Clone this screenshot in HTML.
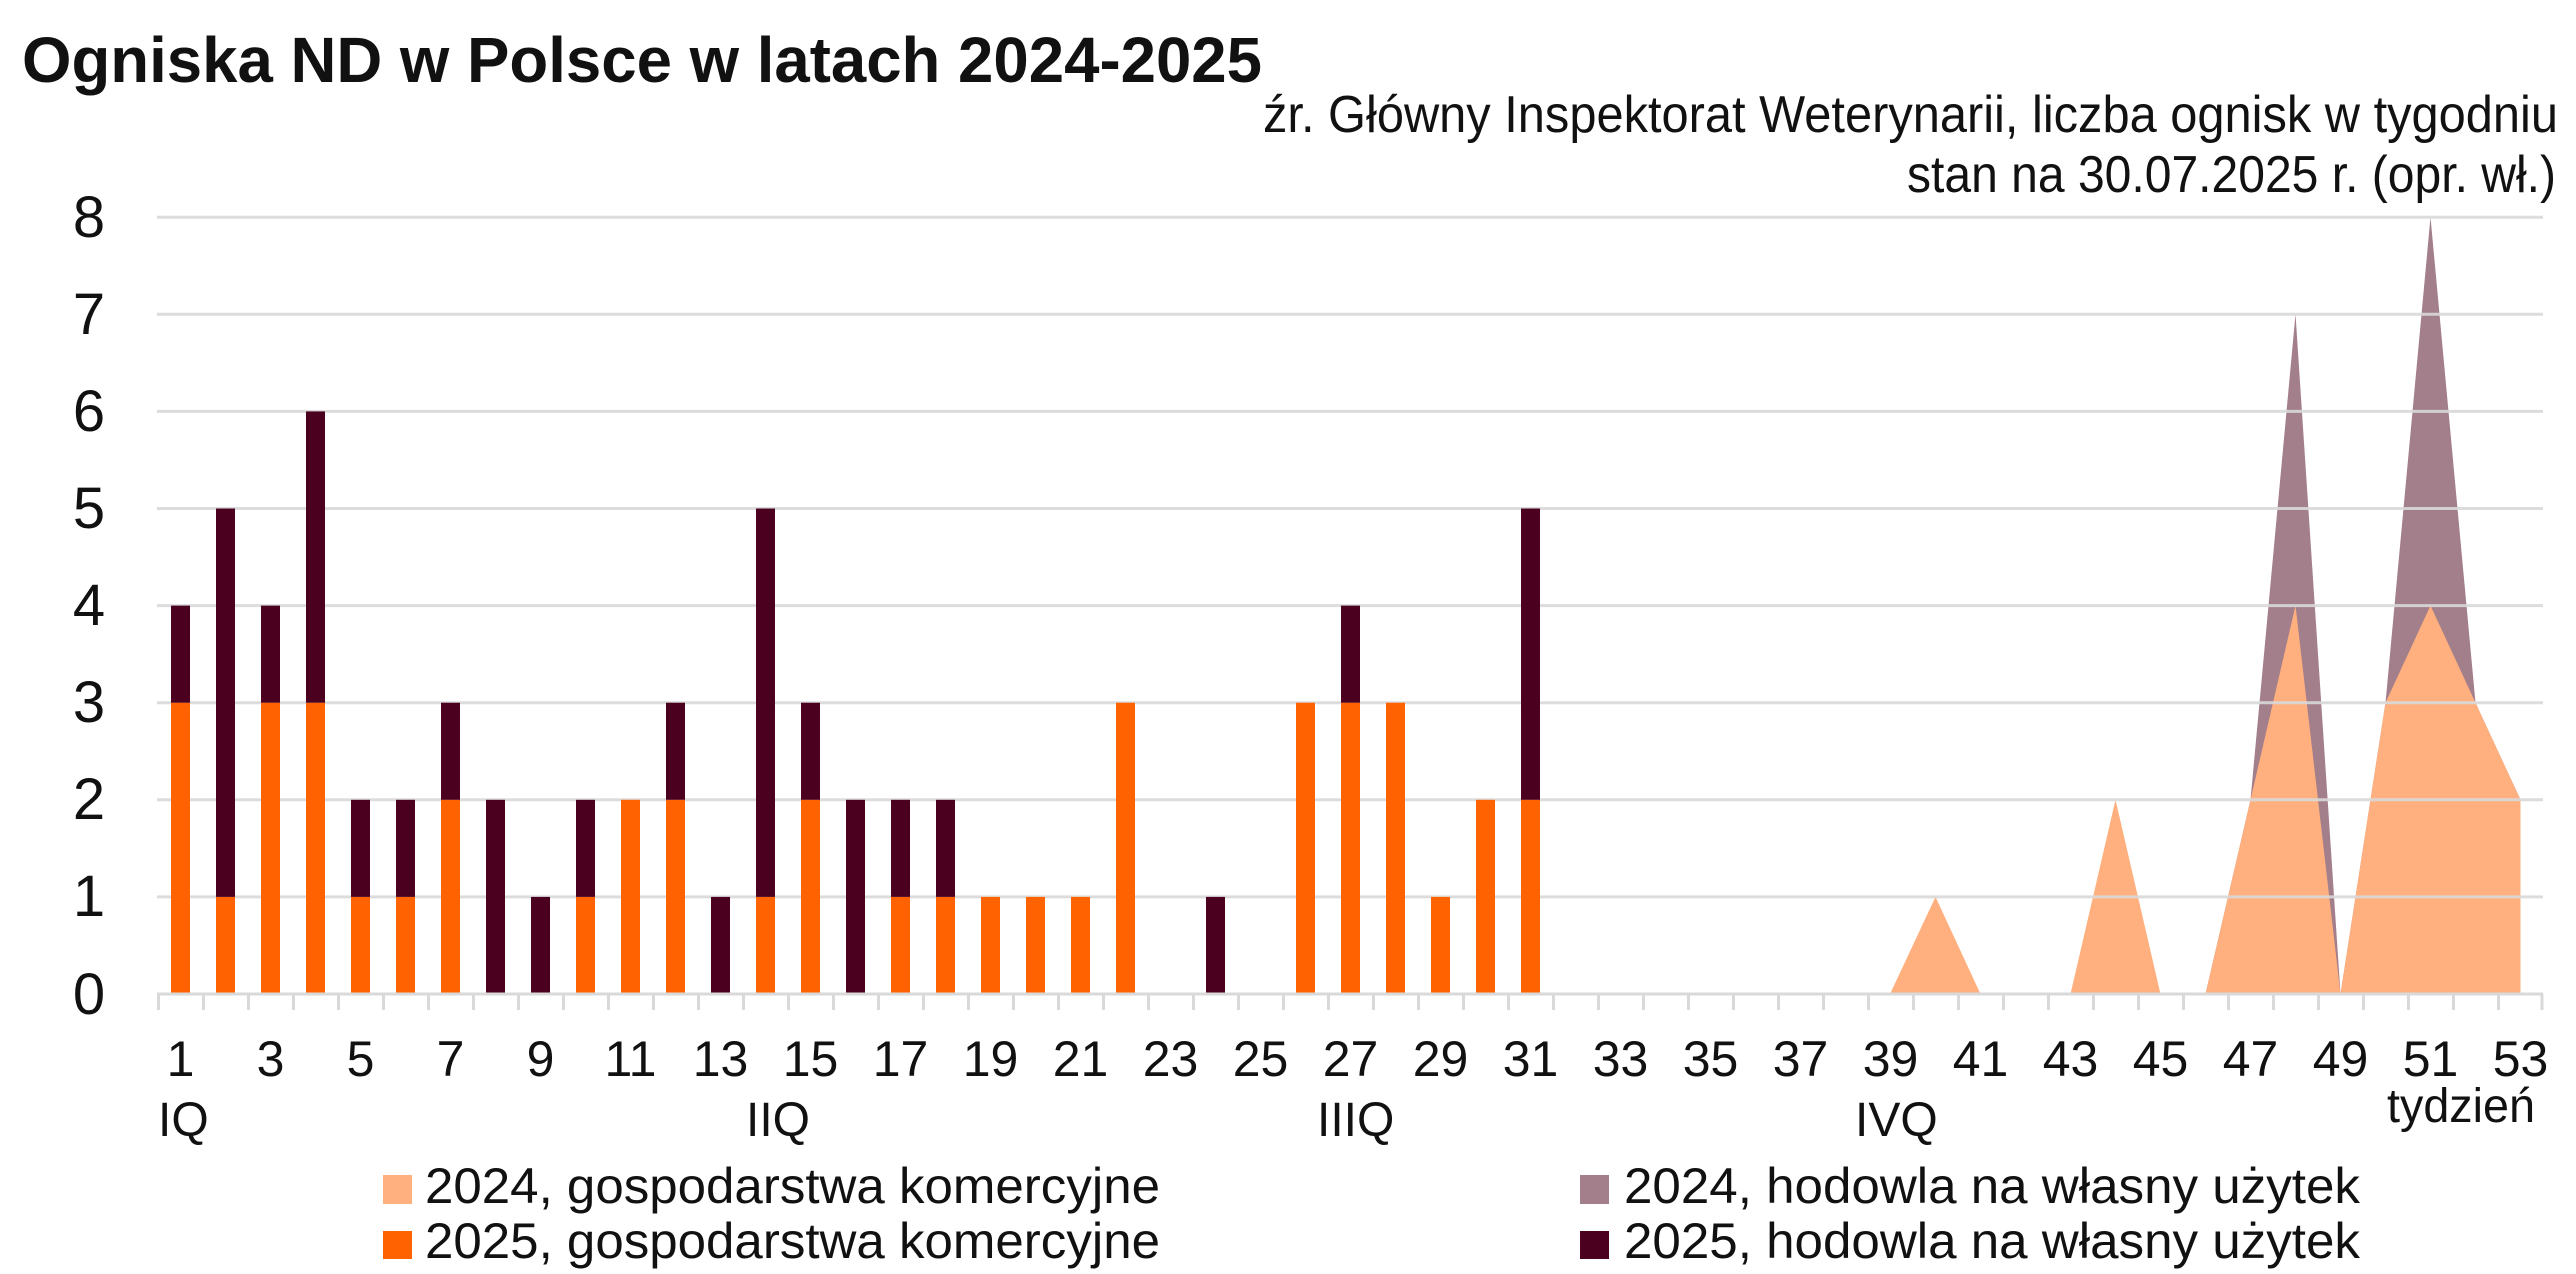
<!DOCTYPE html>
<html><head><meta charset="utf-8"><style>html,body{margin:0;padding:0;background:#fff}svg{display:block}</style></head>
<body>
<svg width="2576" height="1274" viewBox="0 0 2576 1274" xmlns="http://www.w3.org/2000/svg" font-family="Liberation Sans, DejaVu Sans, sans-serif" fill="#111">
<text x="22" y="82" font-size="64" font-weight="bold" textLength="1240" lengthAdjust="spacingAndGlyphs">Ogniska ND w Polsce w latach 2024-2025</text>
<text x="2558" y="132" font-size="52" text-anchor="end" textLength="1295" lengthAdjust="spacingAndGlyphs">źr. Główny Inspektorat Weterynarii, liczba ognisk w tygodniu</text>
<text x="2556" y="192" font-size="52" text-anchor="end" textLength="649" lengthAdjust="spacingAndGlyphs">stan na 30.07.2025 r. (opr. wł.)</text>

<polygon fill="#a37e8b" points="2205.5,994 2250.5,799.8 2295.5,314.3 2340.5,994 2385.5,702.7 2430.5,217.2 2475.5,702.7 2520.5,799.8 2520.5,994"/>
<polygon fill="#ffb07e" points="1890,994 1935.5,896.9 1980.5,994 2070.5,994 2115.5,799.8 2160.5,994 2205.5,994 2250.5,799.8 2295.5,605.6 2340.5,994 2385.5,702.7 2430.5,605.6 2475.5,702.7 2520.5,799.8 2520.5,994"/>

<g stroke="#d9d9d9" stroke-width="3" opacity="0.9">
<line x1="157" x2="2543" y1="217.2" y2="217.2"/>
<line x1="157" x2="2543" y1="314.3" y2="314.3"/>
<line x1="157" x2="2543" y1="411.4" y2="411.4"/>
<line x1="157" x2="2543" y1="508.5" y2="508.5"/>
<line x1="157" x2="2543" y1="605.6" y2="605.6"/>
<line x1="157" x2="2543" y1="702.7" y2="702.7"/>
<line x1="157" x2="2543" y1="799.8" y2="799.8"/>
<line x1="157" x2="2543" y1="896.9" y2="896.9"/>
</g>

<g fill="#ff6200">
<rect x="171" y="702.7" width="19" height="291.3"/>
<rect x="216" y="896.9" width="19" height="97.1"/>
<rect x="261" y="702.7" width="19" height="291.3"/>
<rect x="306" y="702.7" width="19" height="291.3"/>
<rect x="351" y="896.9" width="19" height="97.1"/>
<rect x="396" y="896.9" width="19" height="97.1"/>
<rect x="441" y="799.8" width="19" height="194.2"/>
<rect x="576" y="896.9" width="19" height="97.1"/>
<rect x="621" y="799.8" width="19" height="194.2"/>
<rect x="666" y="799.8" width="19" height="194.2"/>
<rect x="756" y="896.9" width="19" height="97.1"/>
<rect x="801" y="799.8" width="19" height="194.2"/>
<rect x="891" y="896.9" width="19" height="97.1"/>
<rect x="936" y="896.9" width="19" height="97.1"/>
<rect x="981" y="896.9" width="19" height="97.1"/>
<rect x="1026" y="896.9" width="19" height="97.1"/>
<rect x="1071" y="896.9" width="19" height="97.1"/>
<rect x="1116" y="702.7" width="19" height="291.3"/>
<rect x="1296" y="702.7" width="19" height="291.3"/>
<rect x="1341" y="702.7" width="19" height="291.3"/>
<rect x="1386" y="702.7" width="19" height="291.3"/>
<rect x="1431" y="896.9" width="19" height="97.1"/>
<rect x="1476" y="799.8" width="19" height="194.2"/>
<rect x="1521" y="799.8" width="19" height="194.2"/>
</g>
<g fill="#4b0020">
<rect x="171" y="605.6" width="19" height="97.1"/>
<rect x="216" y="508.5" width="19" height="388.4"/>
<rect x="261" y="605.6" width="19" height="97.1"/>
<rect x="306" y="411.4" width="19" height="291.3"/>
<rect x="351" y="799.8" width="19" height="97.1"/>
<rect x="396" y="799.8" width="19" height="97.1"/>
<rect x="441" y="702.7" width="19" height="97.1"/>
<rect x="486" y="799.8" width="19" height="194.2"/>
<rect x="531" y="896.9" width="19" height="97.1"/>
<rect x="576" y="799.8" width="19" height="97.1"/>
<rect x="666" y="702.7" width="19" height="97.1"/>
<rect x="711" y="896.9" width="19" height="97.1"/>
<rect x="756" y="508.5" width="19" height="388.4"/>
<rect x="801" y="702.7" width="19" height="97.1"/>
<rect x="846" y="799.8" width="19" height="194.2"/>
<rect x="891" y="799.8" width="19" height="97.1"/>
<rect x="936" y="799.8" width="19" height="97.1"/>
<rect x="1206" y="896.9" width="19" height="97.1"/>
<rect x="1341" y="605.6" width="19" height="97.1"/>
<rect x="1521" y="508.5" width="19" height="291.3"/>
</g>

<line x1="157" x2="2543" y1="994" y2="994" stroke="#d9d9d9" stroke-width="3"/>
<path stroke="#d9d9d9" stroke-width="3" d="M158.5 994v16M203.5 994v16M248.5 994v16M293.5 994v16M338.5 994v16M383.5 994v16M428.5 994v16M473.5 994v16M518.5 994v16M563.5 994v16M608.5 994v16M653.5 994v16M698.5 994v16M743.5 994v16M788.5 994v16M833.5 994v16M878.5 994v16M923.5 994v16M968.5 994v16M1013.5 994v16M1058.5 994v16M1103.5 994v16M1148.5 994v16M1193.5 994v16M1238.5 994v16M1283.5 994v16M1328.5 994v16M1373.5 994v16M1418.5 994v16M1463.5 994v16M1508.5 994v16M1553.5 994v16M1598.5 994v16M1643.5 994v16M1688.5 994v16M1733.5 994v16M1778.5 994v16M1823.5 994v16M1868.5 994v16M1913.5 994v16M1958.5 994v16M2003.5 994v16M2048.5 994v16M2093.5 994v16M2138.5 994v16M2183.5 994v16M2228.5 994v16M2273.5 994v16M2318.5 994v16M2363.5 994v16M2408.5 994v16M2453.5 994v16M2498.5 994v16M2542 994v16"/>

<g font-size="58" text-anchor="middle">
<text x="89" y="237">8</text>
<text x="89" y="334">7</text>
<text x="89" y="431">6</text>
<text x="89" y="528">5</text>
<text x="89" y="625">4</text>
<text x="89" y="722">3</text>
<text x="89" y="819">2</text>
<text x="89" y="916">1</text>
<text x="89" y="1014">0</text>
</g>

<g font-size="50" text-anchor="middle">
<text x="180.5" y="1076">1</text>
<text x="270.5" y="1076">3</text>
<text x="360.5" y="1076">5</text>
<text x="450.5" y="1076">7</text>
<text x="540.5" y="1076">9</text>
<text x="630.5" y="1076">11</text>
<text x="720.5" y="1076">13</text>
<text x="810.5" y="1076">15</text>
<text x="900.5" y="1076">17</text>
<text x="990.5" y="1076">19</text>
<text x="1080.5" y="1076">21</text>
<text x="1170.5" y="1076">23</text>
<text x="1260.5" y="1076">25</text>
<text x="1350.5" y="1076">27</text>
<text x="1440.5" y="1076">29</text>
<text x="1530.5" y="1076">31</text>
<text x="1620.5" y="1076">33</text>
<text x="1710.5" y="1076">35</text>
<text x="1800.5" y="1076">37</text>
<text x="1890.5" y="1076">39</text>
<text x="1980.5" y="1076">41</text>
<text x="2070.5" y="1076">43</text>
<text x="2160.5" y="1076">45</text>
<text x="2250.5" y="1076">47</text>
<text x="2340.5" y="1076">49</text>
<text x="2430.5" y="1076">51</text>
<text x="2520.5" y="1076">53</text>
</g>
<g font-size="48">
<text x="158" y="1136">IQ</text>
<text x="746" y="1136">IIQ</text>
<text x="1317" y="1136">IIIQ</text>
<text x="1855" y="1136">IVQ</text>
<text x="2387" y="1122" textLength="148" lengthAdjust="spacingAndGlyphs">tydzień</text>
</g>

<rect x="383" y="1175" width="29" height="29" fill="#ffb07e"/>
<rect x="383" y="1231" width="29" height="28" fill="#ff6200"/>
<rect x="1580" y="1175" width="29" height="29" fill="#a37e8b"/>
<rect x="1580" y="1231" width="29" height="28" fill="#4b0020"/>
<g font-size="50">
<text x="425" y="1203" textLength="735" lengthAdjust="spacingAndGlyphs">2024, gospodarstwa komercyjne</text>
<text x="425" y="1258" textLength="735" lengthAdjust="spacingAndGlyphs">2025, gospodarstwa komercyjne</text>
<text x="1624" y="1203" textLength="736" lengthAdjust="spacingAndGlyphs">2024, hodowla na własny użytek</text>
<text x="1624" y="1258" textLength="736" lengthAdjust="spacingAndGlyphs">2025, hodowla na własny użytek</text>
</g>
</svg>
</body></html>
